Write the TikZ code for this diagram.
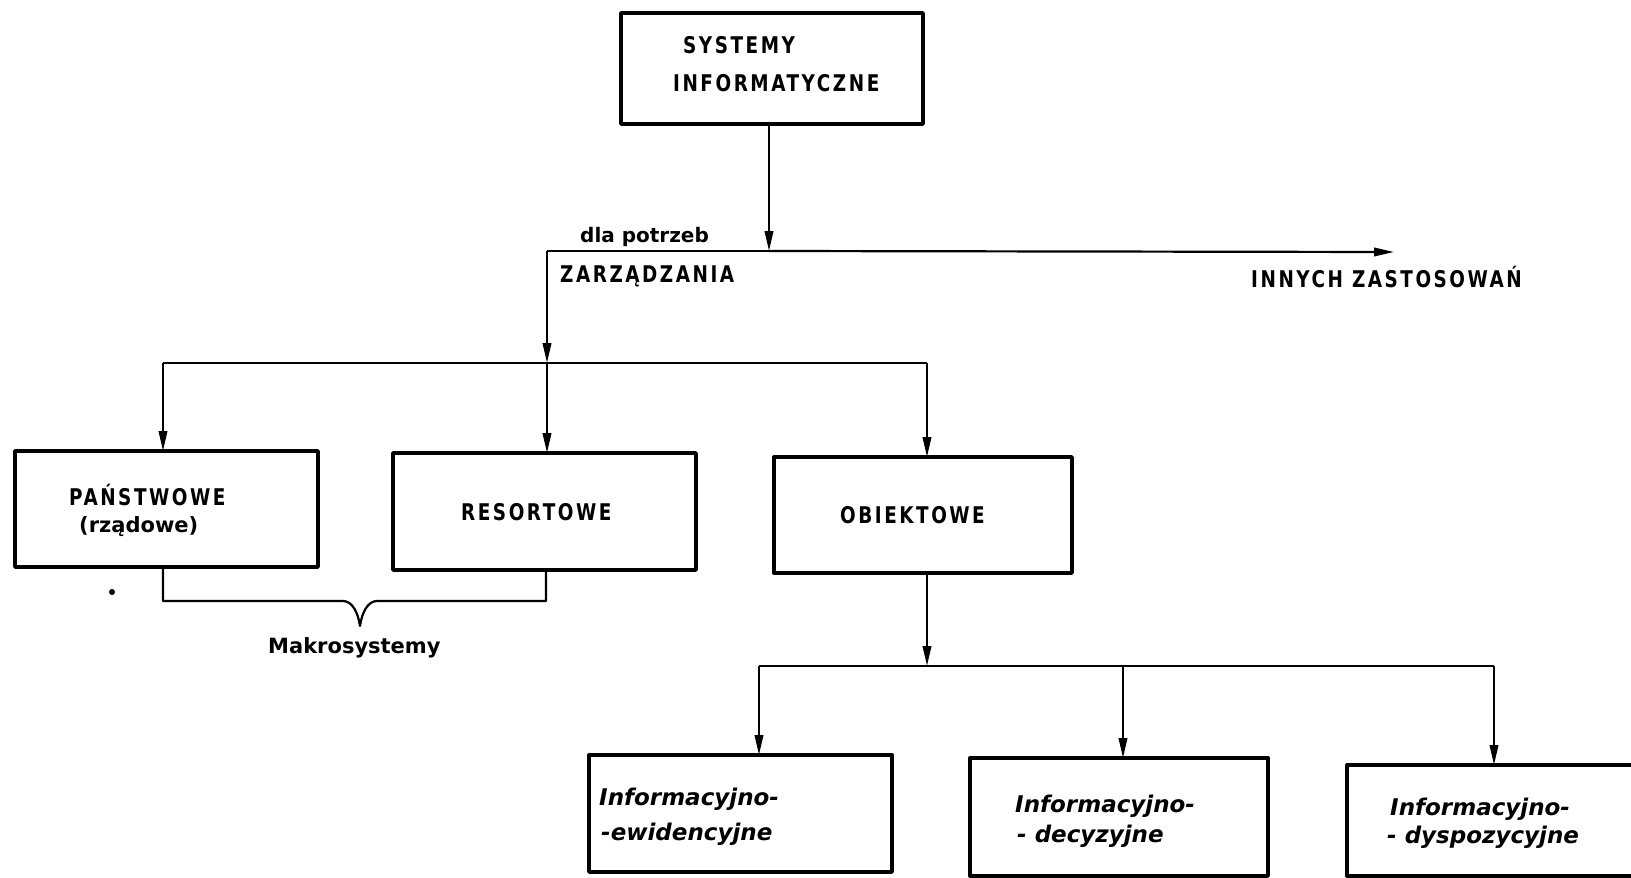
\documentclass[tikz,border=0pt]{standalone}
\usepackage{fontspec}
\setmainfont{DejaVu Sans}
\newfontfamily\capsfont[LetterSpace=11,FakeStretch=0.8]{DejaVu Sans Bold}
\newfontfamily\handfont{DejaVu Sans Bold}
\newfontfamily\slantfont{DejaVu Sans Bold Oblique}
\usetikzlibrary{arrows.meta}
\begin{document}
\begin{tikzpicture}[x=1pt,y=-1pt,
  frame/.style={line width=3.4pt,line join=round},
  wire/.style={line width=2.2pt},
  arr/.style={wire,-{Triangle[length=20pt,width=8.5pt]}},
  caps/.style={inner sep=0pt,anchor=base west,font=\capsfont\fontsize{23}{26}\selectfont},
  hand/.style={inner sep=0pt,anchor=base west,font=\slantfont\fontsize{23}{28}\selectfont},
  small/.style={inner sep=0pt,anchor=base west,font=\handfont\fontsize{#1}{26}\selectfont}]
\useasboundingbox (0,0) rectangle (1631,878);
\begin{scope}
\clip (0,0) rectangle (1631,878);
% boxes
\draw[frame] (621,13) rectangle (923,124);
\draw[frame] (15,451) rectangle (318,567);
\draw[frame] (393,453) rectangle (696,570);
\draw[frame] (774,457) rectangle (1072,573);
\draw[frame] (589,755) rectangle (892,872);
\draw[frame] (970,758) rectangle (1268,876);
\draw[frame] (1660,765) -- (1347,765) -- (1347,876) -- (1660,876);
\end{scope}
% named anchor points
\coordinate (top) at (769,124);
\coordinate (split) at (769,251);
\coordinate (corner) at (547,251);
\coordinate (other) at (1394,252);
\coordinate (dist) at (547,363);
\coordinate (dl) at (163,363);
\coordinate (dr) at (927,363);
\coordinate (b1) at (163,451);
\coordinate (b2) at (547,453);
\coordinate (b3) at (927,457);
\coordinate (b3s) at (927,573);
\coordinate (d2) at (927,666);
\coordinate (d2l) at (759,666);
\coordinate (d2m) at (1123,666);
\coordinate (d2r) at (1494,666);
\coordinate (c1) at (759,755);
\coordinate (c2) at (1123,758);
\coordinate (c3) at (1494,765);
\coordinate (b1s) at (163,567);
\coordinate (b2s) at (546,570);
% connectors
\draw[arr] (top) -- (split);
\draw[wire] (corner) -- (split);
\draw[arr] (split) -- (other);
\draw[arr] (corner) -- (dist);
\draw[wire] (dl) -- (dr);
\draw[arr] (dl) -- (b1);
\draw[arr] (dist) -- (b2);
\draw[arr] (dr) -- (b3);
\draw[arr] (b3s) -- (d2);
\draw[wire] (d2l) -- (d2r);
\draw[arr] (d2l) -- (c1);
\draw[arr] (d2m) -- (c2);
\draw[arr] (d2r) -- (c3);
% brace under the two macro-level boxes
\draw[wire,line join=round] (b1s) -- (163,601) -- (343,601)
  .. controls (352,601) and (358,612) .. (360,626)
  .. controls (362,612) and (368,601) .. (377,601) -- (546,601) -- (b2s);
\fill (112,592) circle (3pt);
% labels
\node[caps] (t1) at (683,53) {SYSTEMY};
\node[caps] (t2) at (673,91) {INFORMATYCZNE};
\node[small=20] (t3) at (580,242) {dla potrzeb};
\node[caps] (t4) at (560,282) {ZARZĄDZANIA};
\node[caps] (t5) at (1251,287) {INNYCH ZASTOSOWAŃ};
\node[caps] (t6) at (69,505) {PAŃSTWOWE};
\node[small=21] (t7) at (79,532) {(rządowe)};
\node[caps] (t8) at (461,520) {RESORTOWE};
\node[caps] (t9) at (840,523) {OBIEKTOWE};
\node[small=21] (t10) at (268,653) {Makrosystemy};
\node[hand] (t11) at (599,805) {Informacyjno-};
\node[hand] (t12) at (601,840) {-ewidencyjne};
\node[hand] (t13) at (1015,812) {Informacyjno-};
\node[hand] (t14) at (1017,842) {- decyzyjne};
\node[hand] (t15) at (1390,815) {Informacyjno-};
\node[hand] (t16) at (1387,843) {- dyspozycyjne};
\end{tikzpicture}
\end{document}
